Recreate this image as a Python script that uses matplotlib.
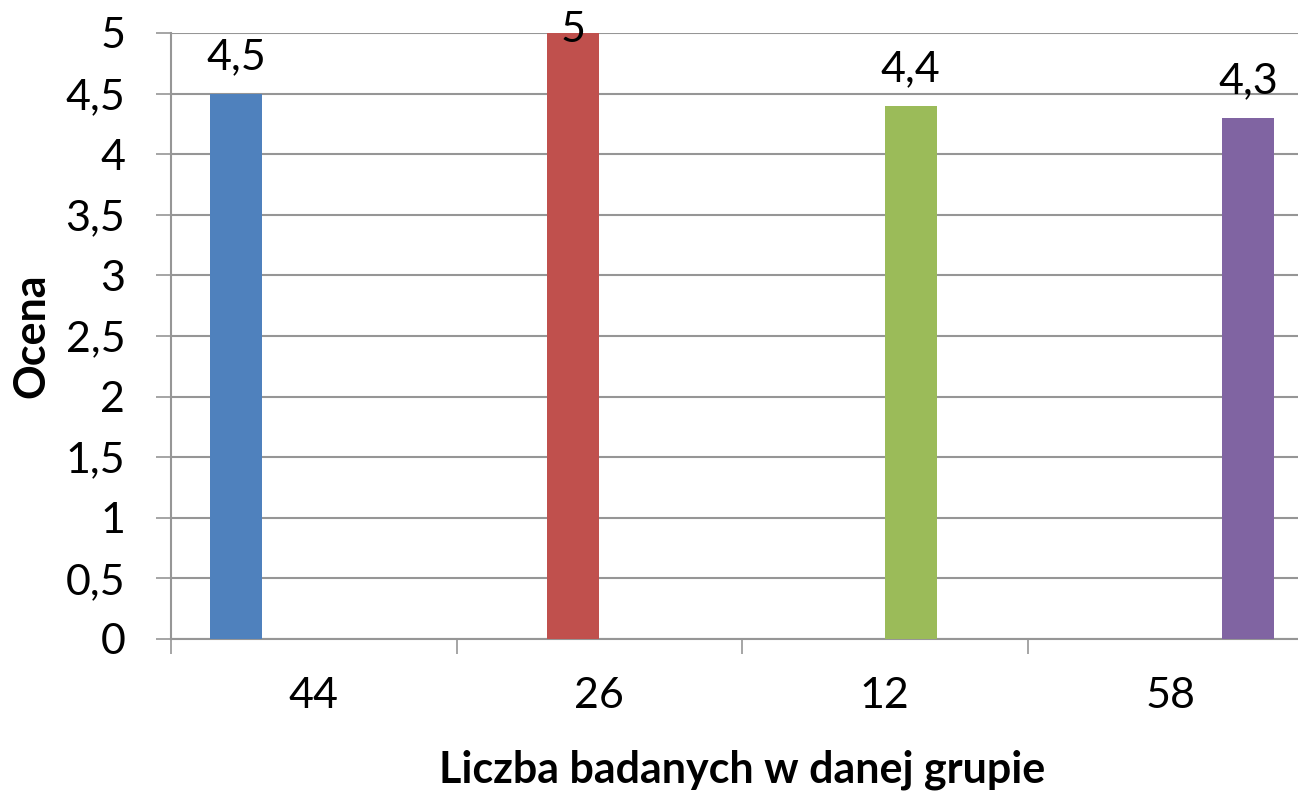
import matplotlib
matplotlib.use("Agg")
import matplotlib.pyplot as plt
from matplotlib.ticker import FuncFormatter, MultipleLocator

# data
categories = ["44", "26", "12", "58"]
scores = [4.5, 5.0, 4.4, 4.3]
colors = ["#4F81BD", "#C0504D", "#9BBB59", "#8064A2"]

plt.rcParams["font.family"] = ["Lato", "DejaVu Sans"]

W, H = 1298, 793
fig = plt.figure(figsize=(W / 100, H / 100), dpi=100)
# plot area runs past the right edge, as in the cropped original
ax = fig.add_axes([171 / W, 154 / H, (1313 - 171) / W, 606 / H])

n = len(categories)
ymax = 5
bw = 1 / 5.5          # excel gap width 150%
off = 0.75 * bw
grid_c = "#969696"
fs = 31

for j, (val, c) in enumerate(zip(scores, colors)):
    x = j + off + (j + 0.5) * bw
    ax.bar(x, val, width=bw, color=c, zorder=3)
    lab = f"{val:g}".replace(".", ",")
    # excel keeps the label inside the plot area, so the top one sinks a bit
    ty = min(val + 0.2, ymax - 0.075)
    ax.text(x, ty, lab, ha="center", va="baseline", fontsize=fs, zorder=4,
            clip_on=False)

ax.set_xlim(0, n)
ax.set_ylim(0, ymax)
ax.yaxis.set_major_locator(MultipleLocator(0.5))
ax.yaxis.set_major_formatter(FuncFormatter(lambda v, p: f"{v:g}".replace(".", ",")))
ax.grid(axis="y", color=grid_c, lw=1.5, zorder=0)

ax.set_xticks(range(n + 1))
ax.set_xticklabels([])
ax.set_xticks([i + 0.5 for i in range(n)], minor=True)
ax.set_xticklabels(categories, minor=True, fontsize=fs)
ax.tick_params(axis="x", which="minor", length=0, pad=27)
ax.tick_params(axis="x", which="major", length=11, width=1.2, color=grid_c)
ax.tick_params(axis="y", length=11, width=1.2, color=grid_c, labelsize=fs, pad=22)

for s in ["top", "right"]:
    ax.spines[s].set_visible(False)
for s in ["left", "bottom"]:
    ax.spines[s].set_color(grid_c)
    ax.spines[s].set_linewidth(1.5)

fig.text(31 / W, 1 - 336 / H, "Ocena", rotation=90, ha="center", va="center",
         fontsize=fs, fontweight="bold")
fig.text(742 / W, 1 - 782 / H, "Liczba badanych w danej grupie",
         ha="center", va="baseline", fontsize=fs, fontweight="bold")

fig.savefig("out.png", dpi=100)
